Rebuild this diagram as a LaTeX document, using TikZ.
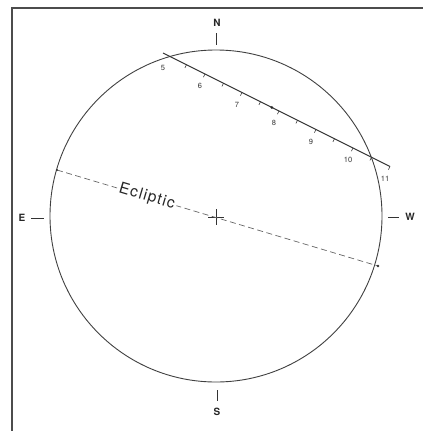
\documentclass[tikz,border=0pt]{standalone}
\usepackage{fontspec}
\setmainfont{TeX Gyre Heros}
\newfontfamily\eclfont[LetterSpace=8]{TeX Gyre Heros}
\usepackage{tikz}
\usetikzlibrary{calc,positioning}

\begin{document}
\begin{tikzpicture}[
  x=1pt, y=-1pt,
  every node/.style={font=\footnotesize, inner sep=1pt},
  compass/.style={font=\bfseries\fontsize{10}{10}\selectfont, text=black!85},
  hour/.style   ={font=\fontsize{7.5}{8}\selectfont, text=black!80},
  tk/.style     ={draw=black!80, line width=0.8pt},
  sky/.style    ={draw=black!75, line width=0.9pt},
  ecl/.style    ={draw=black!60, line width=0.7pt, dash pattern=on 6pt off 3.5pt},
  path/.style   ={draw=black!80, line width=0.9pt},
  frame/.style  ={draw=black!70, line width=1.4pt}
]
\useasboundingbox (0,0) rectangle (423,431);
\draw[frame] (12,431) -- (12,8) -- (423,8);

% horizon circle and centre
\coordinate (O) at (216,216);
\draw[sky] (O) circle (166);
\draw[tk] (208,217) -- (224,217) (216,209) -- (216,225);

% compass points
\node[compass] (N) at (217,23)  {N};
\node[compass] (S) at (217,412) {S};
\node[compass] (E) at (22,218)  {E};
\node[compass] (W) at (410,217) {W};
\draw[tk] (216,33) -- (216,45);
\draw[tk] (217,390) -- (217,401);
\draw[tk] (31,218) -- (44,218);
\draw[tk] (388,217) -- (399,217);

% ecliptic
\coordinate (eL) at (57,170);
\coordinate (eR) at (378,266);
\draw[ecl] (eL) -- node[pos=0.28, sloped, fill=white, inner sep=2pt,
  font=\eclfont\fontsize{15.5}{15.5}\selectfont, text=black!85] (ecltxt) {Ecliptic} (eR);
\fill[black!80] (eL) circle (1.2);
\fill[black!80] (eR) circle (1.4);

% path of the object with hourly marks
\coordinate (p0) at (163,53);
\coordinate (p1) at (390,166.5);
\coordinate (s5) at (168,55.5);
\coordinate (s11) at (390,166.5);
\draw[path] (p0) -- (p1);
\foreach \t in {0.5,1,...,6}{
  \draw[tk, line width=0.6pt] ($(s5)!{\t/6}!(s11)$) -- ++(-1.6,3.2);
}
\foreach \h in {5,...,11}{
  \node[hour] (h\h) at ($(s5)!{(\h-5)/6}!(s11) + (-5,12)$) {\h};
}
\fill[black!85] ($(s5)!{2.81/6}!(s11)$) circle (1.5);
\end{tikzpicture}
\end{document}
